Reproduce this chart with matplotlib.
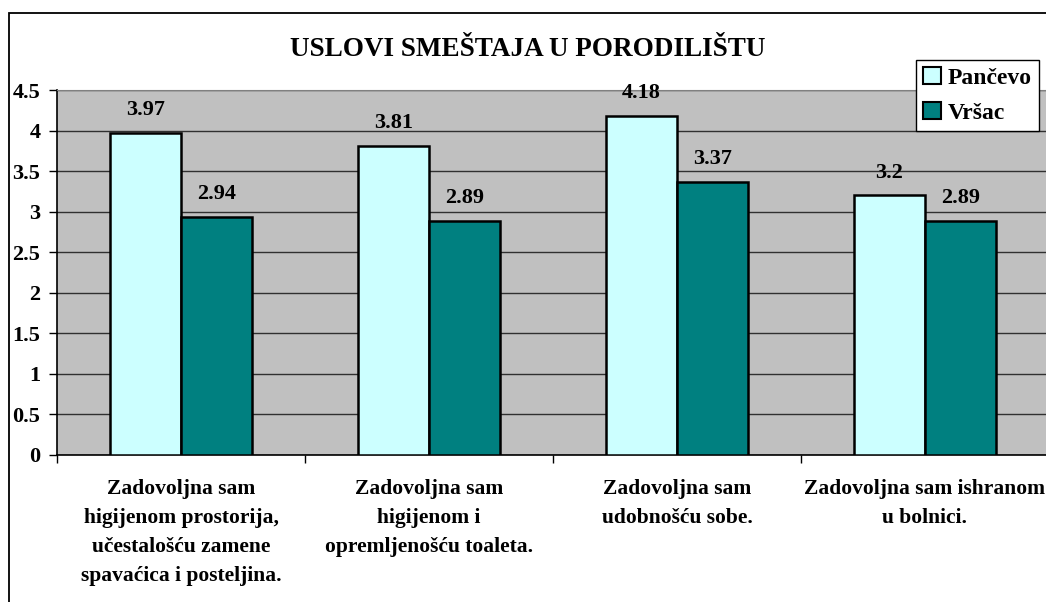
import matplotlib.pyplot as plt
from matplotlib.patches import Rectangle, Patch

categories = [
    "Zadovoljna sam\nhigijenom prostorija,\nučestalošću zamene\nspavaćica i posteljina.",
    "Zadovoljna sam\nhigijenom i\nopremljenošću toaleta.",
    "Zadovoljna sam\nudobnošću sobe.",
    "Zadovoljna sam ishranom\nu bolnici.",
]
pancevo = [3.97, 3.81, 4.18, 3.2]
vrsac = [2.94, 2.89, 3.37, 2.89]
pancevo_labels = ["3.97", "3.81", "4.18", "3.2"]
vrsac_labels = ["2.94", "2.89", "3.37", "2.89"]
yticks = [0, 0.5, 1, 1.5, 2, 2.5, 3, 3.5, 4, 4.5]
ytick_labels = ["0", "0.5", "1", "1.5", "2", "2.5", "3", "3.5", "4", "4.5"]

plt.rcParams['font.family'] = ['Liberation Serif', 'DejaVu Serif']
plt.rcParams['font.weight'] = 'bold'

W, H = 1046, 602
fig = plt.figure(figsize=(W / 100, H / 100), dpi=100)

# outer chart border (cropped on right and bottom)
fig.patches.append(Rectangle((9 / W, -0.1), 1.2, (H - 13) / H + 0.1, transform=fig.transFigure,
                             fill=False, edgecolor='black', linewidth=1.3, zorder=0))

ax = fig.add_axes([57 / W, (H - 455) / H, 992 / W, 365 / H])
ax.set_facecolor('#C0C0C0')

bw = 0.286
x = list(range(len(categories)))
ax.bar([i - bw / 2 for i in x], pancevo, width=bw, color='#CCFFFF', edgecolor='black',
       linewidth=1.8, zorder=3, label='Pančevo')
ax.bar([i + bw / 2 for i in x], vrsac, width=bw, color='#008080', edgecolor='black',
       linewidth=1.8, zorder=3, label='Vršac')

for i in x:
    ax.annotate(pancevo_labels[i], (i - bw / 2, pancevo[i]), xytext=(0, 9), textcoords='offset points',
                ha='center', va='bottom', fontsize=16, fontweight='bold')
    ax.annotate(vrsac_labels[i], (i + bw / 2, vrsac[i]), xytext=(0, 9), textcoords='offset points',
                ha='center', va='bottom', fontsize=16, fontweight='bold')

ax.set_xlim(-0.5, len(categories) - 0.5)
ax.set_ylim(0, 4.5)
ax.set_yticks(yticks)
ax.set_yticklabels(ytick_labels, fontsize=16, fontweight='bold')
ax.yaxis.grid(True, color='#303030', linewidth=1.0, zorder=1)
ax.set_axisbelow(True)
ax.tick_params(axis='y', direction='out', length=6, width=1, pad=6)

ax.set_xticks([i + 0.5 for i in [-1] + x])
ax.set_xticklabels([])
ax.tick_params(axis='x', direction='out', length=6, width=1)
for i in x:
    ax.text(i, -0.3, categories[i], ha='center', va='top', fontsize=15.5, fontweight='bold',
            linespacing=1.6)

ax.spines['top'].set_color('#808080')
ax.spines['right'].set_color('#808080')
ax.spines['left'].set_linewidth(1.2)
ax.spines['bottom'].set_linewidth(1.2)

fig.text(528 / W, 1 - 49 / H, "USLOVI SMEŠTAJA U PORODILIŠTU", ha='center', va='center',
         fontsize=19.5, fontweight='bold')

handles = [Patch(facecolor='#CCFFFF', edgecolor='black', linewidth=1.5),
           Patch(facecolor='#008080', edgecolor='black', linewidth=1.5)]
leg = fig.legend(handles, ['Pančevo', 'Vršac'], loc='upper left',
                 bbox_to_anchor=(916 / W, 1 - 60 / H), fontsize=17, frameon=True,
                 fancybox=False, edgecolor='black', framealpha=1, borderpad=0.3,
                 handlelength=0.75, handleheight=0.75, handletextpad=0.3, labelspacing=0.55,
                 borderaxespad=0)
leg.get_frame().set_linewidth(1.0)
for t in leg.get_texts():
    t.set_fontweight('bold')

fig.savefig('out.png', dpi=100)
